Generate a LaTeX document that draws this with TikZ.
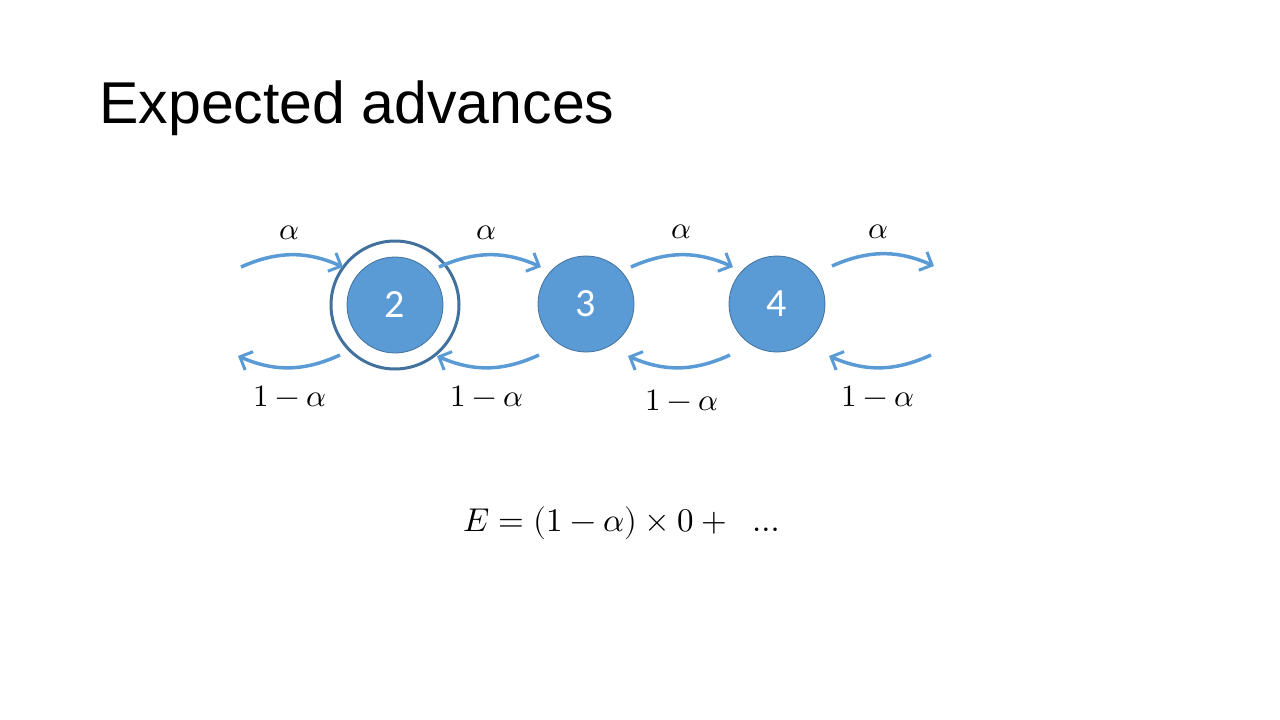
\documentclass[tikz,border=0pt]{standalone}
\usepackage{fontspec}
\usepackage{unicode-math}
\setmainfont{Liberation Sans}
\setmathfont{Latin Modern Math}
\newfontfamily\digitfont{Carlito}
\usetikzlibrary{arrows.meta}
\definecolor{nodeblue}{HTML}{5B9BD5}
\definecolor{edgeblue}{HTML}{41719C}
\definecolor{ringblue}{HTML}{41719C}
\tikzset{
  state/.style={circle, fill=nodeblue, draw=edgeblue, line width=0.8pt, minimum size=96pt, inner sep=0pt, text=white, font=\digitfont\fontsize{40}{44}\selectfont},
  trans/.style={draw=nodeblue, line width=3.5pt, -{Straight Barb[length=10pt, width=20pt, line width=3pt]}},
  lbl/.style={font=\fontsize{31}{36}\selectfont},
}
\begin{document}
\begin{tikzpicture}[x=1pt, y=-1pt]
\useasboundingbox (0,0) rectangle (1280,720);
\node[anchor=west, font=\fontsize{59}{66}\selectfont] (title) at (96,108) {Expected advances};

\node[state] (s2) at (395,305) {2};
\node[state] (s3) at (586,304) {3};
\node[state] (s4) at (777,304) {4};
\node[circle, draw=ringblue, line width=3pt, minimum size=128pt, inner sep=0pt] (ring) at (395,305) {};

% top arrows
\coordinate (t1a) at (241,267); \coordinate (t1b) at (343,267);
\coordinate (t2a) at (439,267); \coordinate (t2b) at (541,267);
\coordinate (t3a) at (631,267); \coordinate (t3b) at (733,267);
\coordinate (t4a) at (832,266); \coordinate (t4b) at (934,266);
\foreach \a/\b in {t1a/t1b,t2a/t2b,t3a/t3b,t4a/t4b}
  \draw[trans] (\a) to[bend left=24] (\b);

% bottom arrows
\coordinate (b1a) at (340,355); \coordinate (b1b) at (238,356);
\coordinate (b2a) at (539,355); \coordinate (b2b) at (437,356);
\coordinate (b3a) at (730,355); \coordinate (b3b) at (628,356);
\coordinate (b4a) at (931,355); \coordinate (b4b) at (829,356);
\foreach \a/\b in {b1a/b1b,b2a/b2b,b3a/b3b,b4a/b4b}
  \draw[trans] (\a) to[bend left=24] (\b);

% labels
\node[lbl] (a1) at (289,233) {$\alpha$};
\node[lbl] (a2) at (486,233) {$\alpha$};
\node[lbl] (a3) at (681,232) {$\alpha$};
\node[lbl] (a4) at (878,232) {$\alpha$};
\node[lbl] (m1) at (290,396) {$1-\alpha$};
\node[lbl] (m2) at (487,396) {$1-\alpha$};
\node[lbl] (m3) at (682,400) {$1-\alpha$};
\node[lbl] (m4) at (878,396) {$1-\alpha$};

\node[font=\fontsize{33}{38}\selectfont] (eq) at (622,523) {$E=(1-\alpha)\times 0+\ \ \ldots$};
\end{tikzpicture}
\end{document}
